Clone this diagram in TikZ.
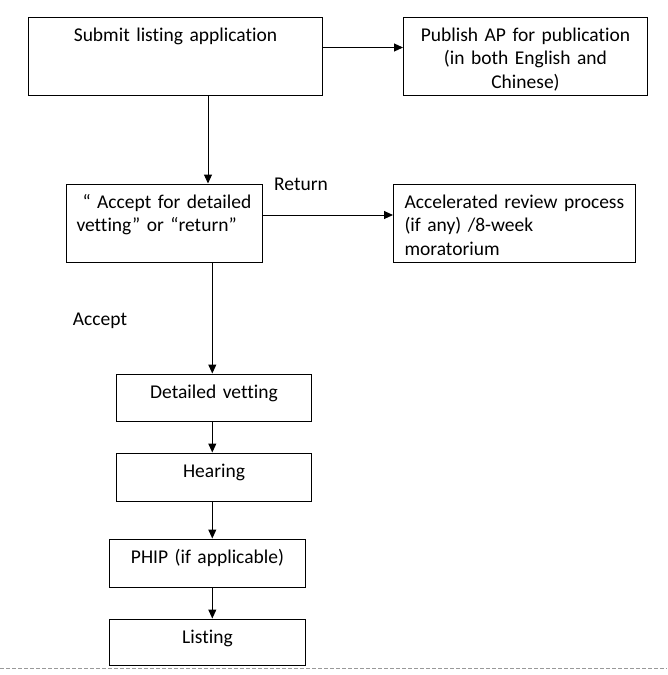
\documentclass[tikz,border=0pt]{standalone}
\usepackage{fontspec}
\setmainfont{Carlito}[Ligatures=NoCommon, WordSpace=0.85]
\usetikzlibrary{arrows.meta}
\begin{document}
\begin{tikzpicture}[x=1pt,y=-1pt,
  box/.style={draw, line width=1pt, inner ysep=0pt, text height=24pt,
    font=\fontsize{19.5}{23.3}\selectfont, anchor=north west},
  cbox/.style={box, inner xsep=0pt, align=center},
  lbox/.style={box, align=left},
  arr/.style={line width=1pt, -{Triangle[length=9pt,width=8pt]}},
  lbl/.style={font=\fontsize{19.5}{23.3}\selectfont, anchor=base west, inner sep=0pt}]
\useasboundingbox (0,0) rectangle (667,675);
% boxes
\node[cbox, text width=294pt, text depth=54pt] (b1) at (28,17) {Submit listing application};
\node[cbox, text width=244pt, text depth=54pt] (b2) at (403,17) {Publish AP for publication\\(in both English and\\Chinese)};
\node[lbox, inner xsep=10pt, text width=176pt, text depth=54.5pt] (b3) at (66,183.5) {\hspace*{6pt}“ Accept for detailed\\vetting” or “return”};
\node[lbox, inner xsep=11pt, text width=220pt, text depth=54pt] (b4) at (393,184) {Accelerated review process\\(if any) /8-week\\moratorium};
\node[cbox, text width=195pt, text depth=23pt] (b5) at (116,373.5) {Detailed vetting};
\node[cbox, text width=195pt, text depth=24pt] (b6) at (116,452.5) {Hearing};
\node[cbox, text width=196pt, text depth=24pt] (b7) at (109,538.5) {PHIP (if applicable)};
\node[cbox, text width=196pt, text depth=22.5pt] (b8) at (109,618.5) {Listing};
% labels
\node[lbl] (ret) at (274,190.7) {Return};
\node[lbl] (acc) at (72.7,325) {Accept};
% guide coordinates
\coordinate (ya) at (0,47.5);
\coordinate (yb) at (0,215);
\coordinate (xa) at (208,0);
\coordinate (xb) at (212.3,0);
% connectors
\draw[arr] (b1.east |- ya) -- (b2.west |- ya);
\draw[arr] (b1.south -| xa) -- (b3.north -| xa);
\draw[arr] (b3.east |- yb) -- (b4.west |- yb);
\draw[arr] (b3.south -| xb) -- (b5.north -| xb);
\draw[arr] (b5.south -| xb) -- (b6.north -| xb);
\draw[arr] (b6.south -| xb) -- (b7.north -| xb);
\draw[arr] (b7.south -| xb) -- (b8.north -| xb);
% bottom dashed rule
\draw[black!40, line width=0.8pt, dash pattern=on 4pt off 2pt] (0,668.5) -- (667,668.5);
\end{tikzpicture}
\end{document}
